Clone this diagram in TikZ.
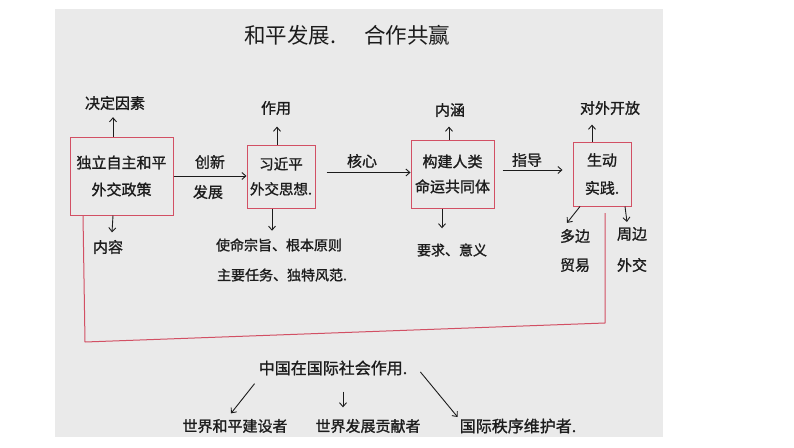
\documentclass[tikz,border=0pt]{standalone}
\usepackage{fontspec}
\newfontfamily\cjk{Noto Sans CJK SC}[FakeBold=1.2]
\newfontfamily\cjkthin{Noto Sans CJK SC}
\usetikzlibrary{arrows.meta}
\definecolor{paper}{RGB}{234,234,234}
\definecolor{pen}{RGB}{28,28,28}
\definecolor{redpen}{RGB}{210,80,100}
\begin{document}
\begin{tikzpicture}[x=1pt,y=-1pt,
  every node/.style={font=\cjk, text=pen, inner sep=0pt},
  lbl/.style={font=\cjk\fontsize{15}{15}\selectfont},
  small/.style={font=\cjk\fontsize{14}{14}\selectfont},
  big/.style={font=\cjk\fontsize{16}{16}\selectfont},
  ttl/.style={font=\cjkthin\fontsize{21.5}{22}\selectfont},
  boxnode/.style={draw=redpen, line width=1pt, align=center},
  arr/.style={draw=pen, line width=0.9pt, -{Straight Barb[length=4pt,width=7pt]}},
  redline/.style={draw=redpen, line width=1pt, line join=round}
]
% canvas and paper
\fill[white] (0,0) rectangle (794,447);
\useasboundingbox (0,0) rectangle (794,447);
\fill[paper] (55,9) rectangle (663,437);

% title
\node[ttl] (t1) at (290,35) {和平发展.};
\node[ttl] (t2) at (407,35) {合作共赢};

% boxes
\node[boxnode, minimum width=103pt, minimum height=78pt, font=\cjk\fontsize{15}{27}\selectfont] (b1) at (121.5,176) {独立自主和平\\外交政策};
\node[boxnode, minimum width=68pt, minimum height=63pt, font=\cjk\fontsize{14.5}{25}\selectfont] (b2) at (281,176.5) {习近平\\外交思想.};
\node[boxnode, minimum width=83pt, minimum height=68pt, font=\cjk\fontsize{15}{25}\selectfont] (b3) at (452.5,174) {构建人类\\命运共同体};
\node[boxnode, minimum width=58pt, minimum height=64pt, font=\cjk\fontsize{15}{28}\selectfont] (b4) at (602,174) {生动\\实践.};

% labels around box 1
\node[lbl] (d1) at (115,103) {决定因素};
\node[lbl] (c1) at (108,247) {内容};
\draw[arr] ([xshift=-8.5pt]b1.north) -- ([xshift=-2pt,yshift=-7pt]d1.south);
\draw[arr] ([xshift=-8.5pt]b1.south) -- ([xshift=4pt,yshift=7.5pt]c1.north);

% box1 -> box2
\node[lbl] (e12a) at (210,162) {创新};
\node[lbl] (e12b) at (208,192) {发展};
\draw[arr] (b1.east) -- (b1.east -| b2.west);

% labels around box 2
\node[lbl] (d2) at (276,108) {作用};
\node[small] (c2a) at (279,245) {使命宗旨、根本原则};
\node[small] (c2b) at (282,275) {主要任务、独特风范.};
\draw[arr] ([xshift=-4pt]b2.north) -- ([xshift=1pt,yshift=-11.5pt]d2.south);
\draw[arr] ([xshift=-9pt]b2.south) -- ([xshift=-7pt,yshift=7.5pt]c2a.north);

% box2 -> box3
\node[lbl] (e23) at (362,161) {核心};
\draw[arr] ([xshift=11pt,yshift=4pt]b2.east) -- ([yshift=4pt]b2.east -| b3.west);

% labels around box 3
\node[lbl] (d3) at (450,110) {内涵};
\node[small] (c3) at (452,250) {要求、意义};
\draw[arr] ([xshift=-3.5pt]b3.north) -- ([xshift=-1pt,yshift=-9.5pt]d3.south);
\draw[arr] ([xshift=-10.5pt]b3.south) -- ([xshift=-10pt,yshift=15pt]c3.north);

% box3 -> box4
\node[lbl] (e34) at (527,160) {指导};
\draw[arr] ([xshift=8pt,yshift=4pt]b3.east) -- ([xshift=-10pt,yshift=4pt]b4.west);

% labels around box 4
\node[lbl] (d4) at (610,108) {对外开放};
\node[lbl] (c4a) at (575,236) {多边};
\node[lbl] (c4b) at (575,265) {贸易};
\node[lbl] (c4c) at (632,234) {周边};
\node[lbl] (c4d) at (632,265) {外交};
\draw[arr] ([xshift=-10pt]b4.north) -- ([xshift=-18pt,yshift=-9.5pt]d4.south);
\draw[arr] ([xshift=-22pt]b4.south) -- ([xshift=-8pt,yshift=6pt]c4a.north);
\draw[arr] ([xshift=23pt]b4.south) -- ([xshift=-5pt,yshift=5pt]c4c.north);

% red connecting line
\coordinate (r1) at (85,342);
\coordinate (r2) at (605,323);
\coordinate (r3) at (605,213);
\draw[redline] ([xshift=-38.5pt]b1.south) -- (r1) -- (r2) -- (r3);

% bottom part
\node[big] (m) at (333,368) {中国在国际社会作用.};
\node[lbl] (n1) at (235,426) {世界和平建设者};
\node[lbl] (n2) at (368,426) {世界发展贡献者};
\node[big] (n3) at (518,426) {国际秩序维护者.};
\draw[arr] ([xshift=-4pt,yshift=-8pt]m.south west) -- ([xshift=-4pt,yshift=5.5pt]n1.north);
\draw[arr] ([xshift=10pt,yshift=-16pt]m.south) -- ([xshift=-25pt,yshift=11.5pt]n2.north);
\draw[arr] ([xshift=13pt,yshift=-4pt]m.east) -- ([xshift=-2pt,yshift=9pt]n3.west);
\end{tikzpicture}
\end{document}
